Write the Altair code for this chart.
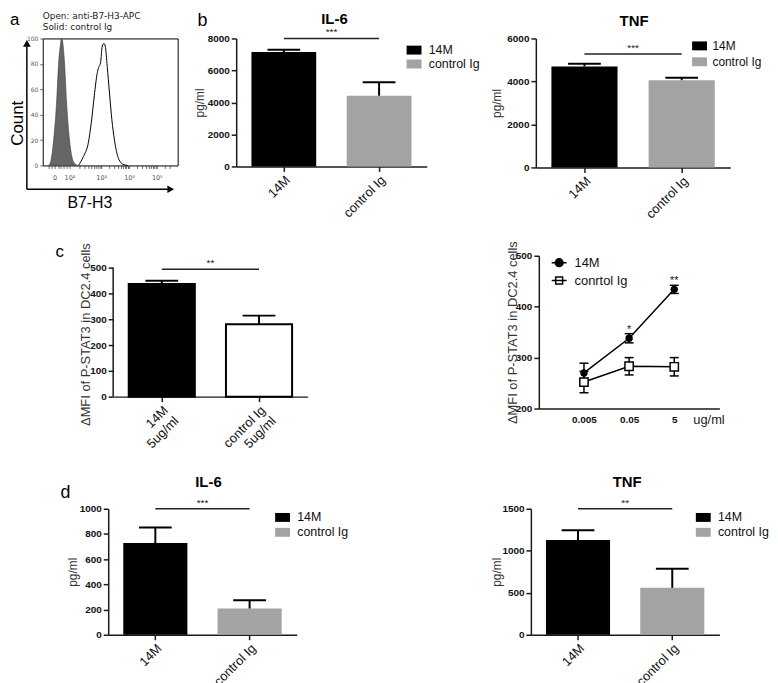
import altair as alt
import pandas as pd

FONT = "Liberation Sans"
AX = "#1a1a1a"

# ---------------- data ----------------
# panel a: flow-cytometry histogram (x in display decades: 3 = 10^3)
hist_ctrl_x = [1.107, 1.179, 1.286, 1.393, 1.464, 1.518, 1.571, 1.625, 1.679, 1.750, 1.857, 2.000, 2.143]
hist_ctrl_y = [0, 3, 20, 50, 80, 93, 100, 95, 80, 50, 20, 3, 0]
hist_open_x = [2.179, 2.357, 2.536, 2.643, 2.750, 2.857, 2.904, 2.975, 3.036, 3.096, 3.143, 3.214,
               3.296, 3.382, 3.475, 3.596, 3.775, 3.954]
hist_open_y = [0, 7, 18, 34, 55, 73, 77, 81, 94, 96, 94, 78, 57, 36, 20, 7, 1, 0]
hist_y_ticks = [0, 20, 40, 60, 80, 100]
hist_major_pos = [1.321, 1.857, 3.0, 4.0, 5.0]
hist_major_lab = ["0", "10²", "10³", "10⁴", "10⁵"]
hist_minor_pos = [1.10, 1.20, 1.45, 1.55, 1.65, 1.75, 2.201, 2.402, 2.545, 2.656, 2.746, 2.823, 2.889, 2.948,
                  3.301, 3.477, 3.602, 3.699, 3.778, 3.845, 3.903, 3.954,
                  4.301, 4.477, 4.602, 4.699, 4.778, 4.845, 4.903, 4.954, 5.301, 5.477]
hist_notes = ["Open: anti-B7-H3-APC", "Solid: control Ig"]

groups = ["14M", "control Ig"]
b_il6_mean = [7150, 4420]
b_il6_upper = [7300, 5260]
b_tnf_mean = [4700, 4060]
b_tnf_upper = [4820, 4175]
c_bar_mean = [437, 281]
c_bar_upper = [449, 314]
d_il6_mean = [728, 208]
d_il6_upper = [851, 274]
d_tnf_mean = [1127, 559]
d_tnf_upper = [1245, 787]

conc_labels = ["0.005", "0.05", "5"]
line_series = ["14M", "conrtol Ig"]
line_14m = [270, 338, 434]
line_14m_err = [19, 9, 8]
line_ctrl = [252, 283, 282]
line_ctrl_err = [21, 17, 18]
line_stars = ["", "*", "**"]

RECT = "M-1.5,-0.9H1.5V0.9H-1.5Z"
PATH_C = "M-1.5,0H1.5M-0.78,0A0.78,0.78,0,1,1,0.78,0A0.78,0.78,0,1,1,-0.78,0Z"
PATH_S = "M-1.5,0H-0.7M0.7,0H1.5M-0.7,-0.7H0.7V0.7H-0.7ZM-0.7,0H0.7"


def text_layer(t, x, y, size, weight="normal", align="center", baseline="alphabetic", font=FONT,
               color="#000"):
    return alt.Chart(pd.DataFrame({"t": [t]})).mark_text(
        fontSize=size, fontWeight=weight, align=align, baseline=baseline, color=color, font=font
    ).encode(text="t:N", x=alt.value(x), y=alt.value(y))


def spacer(w, h):
    return alt.Chart(pd.DataFrame({"v": [0]})).mark_point(opacity=0).properties(width=w, height=h)


def indep(ch):
    return ch.resolve_scale(color="independent", fill="independent", shape="independent",
                            stroke="independent").resolve_legend(
        color="independent", fill="independent", shape="independent", stroke="independent")


# ---------------- panel a ----------------
def panel_a():
    w, h = 136, 128
    df_c = pd.DataFrame({"x": hist_ctrl_x, "count": hist_ctrl_y})
    df_o = pd.DataFrame({"x": hist_open_x, "count": hist_open_y})
    expr = "".join(f"datum.value == {p} ? '{l}' : " for p, l in zip(hist_major_pos, hist_major_lab)) + "''"
    xs = alt.Scale(domain=[0.893, 5.75], nice=False, zero=False)
    ys = alt.Scale(domain=[0, 100], nice=False)
    xax = alt.Axis(values=hist_major_pos + hist_minor_pos, labelExpr=expr, domain=False, tickSize=3,
                   tickColor="#444", tickWidth=0.8, labelFontSize=6.5, labelColor="#555", labelPadding=6,
                   labelFont="DejaVu Sans", labelOverlap=False, labelFlush=False,
                   title="B7-H3", titleFontSize=16, titleFontWeight="normal", titleColor="#000",
                   titleX=47, titleY=29, titleBaseline="top", titleAlign="center", grid=False)
    yax = alt.Axis(values=hist_y_ticks, domain=False, tickSize=3, tickColor="#444", tickWidth=0.8,
                   labelFontSize=6, labelColor="#555", labelPadding=2, labelFont="DejaVu Sans",
                   labelFlush=False, title="Count", titleFontSize=17, titleFontWeight="normal",
                   titleColor="#000", titleX=-20, titleY=85, titleBaseline="alphabetic",
                   titleAlign="center", grid=False)
    X = alt.X("x:Q", scale=xs, axis=xax)
    Y = alt.Y("count:Q", scale=ys, axis=yax)
    area = alt.Chart(df_c).mark_area(fill="#666666", stroke="#3a3a3a", strokeWidth=0.6,
                                     interpolate="monotone").encode(x=X, y=Y)
    line = alt.Chart(df_o).mark_line(color="#000", strokeWidth=1, interpolate="monotone").encode(x=X, y=Y)
    one = pd.DataFrame({"v": [0]})
    arrow_v = alt.Chart(one).mark_rule(color="#000", strokeWidth=1.5).encode(
        x=alt.value(-16), y=alt.value(8), y2=alt.value(152))
    arrow_h = alt.Chart(one).mark_rule(color="#000", strokeWidth=1.5).encode(
        x=alt.value(-16), x2=alt.value(126), y=alt.value(152))
    head_v = alt.Chart(one).mark_point(shape="triangle-up", filled=True, color="#000", size=60,
                                       opacity=1).encode(x=alt.value(-16), y=alt.value(5))
    head_h = alt.Chart(one).mark_point(shape="triangle-right", filled=True, color="#000", size=60,
                                       opacity=1).encode(x=alt.value(129), y=alt.value(152))
    lt = text_layer("a", -33, -13.5, 17, align="left")
    n1 = text_layer(hist_notes[0], 0, -20, 9, align="left", font="DejaVu Sans", color="#222")
    n2 = text_layer(hist_notes[1], 0, -9, 9, align="left", font="DejaVu Sans", color="#222")
    return alt.layer(area, line, arrow_v, arrow_h, head_v, head_h, lt, n1, n2).properties(
        width=w, height=h, view=alt.ViewBackground(stroke="#000", strokeWidth=1))


# ---------------- bar panels ----------------
def bar_panel(means, uppers, colors, ymax, ystep, sig_level, stars, w, h, title=None, title_xy=(0, 0),
              ytitle="pg/ml", ytitle_size=12, ytitle_x=-30, ytitle_y=None, legend_xy=None, legend_rowpad=2,
              legend_font=12.5, legend_offset=8.5, letter=None, letter_xy=(0, 0), letter_size=18,
              letter_baseline="alphabetic", outline=False, line2=None, dom_top=None):
    df = pd.DataFrame({"group": groups, "mean": means, "upper": uppers})
    step = w / 2
    xscale = alt.Scale(domain=groups, paddingInner=0.32, paddingOuter=0.16)
    xkw = dict(title=None, labelAngle=-45, labelFontSize=13, labelColor="#111", tickSize=5, tickWidth=1.5,
               tickColor=AX, domainColor=AX, domainWidth=1.5, labelPadding=2, grid=False)
    if line2:
        xkw["labelExpr"] = f"[datum.label, '{line2}']"
        xkw["labelLineHeight"] = 15
    xax = alt.Axis(**xkw)

    def X(field, **kw):
        return alt.X(field, type="nominal", sort=groups, scale=xscale, axis=xax, **kw)

    top = dom_top if dom_top is not None else ymax
    yscale = alt.Scale(domain=[0, top], nice=False)
    ykw = dict(values=list(range(0, ymax + 1, ystep)), format="d", title=ytitle,
               titleFontSize=ytitle_size, titleFontWeight="normal", titleColor="#333",
               titleX=ytitle_x, titleBaseline="bottom", labelFontWeight="bold", labelFontSize=10,
               labelColor="#111", labelPadding=2, labelFlush=False, tickSize=5, tickWidth=1.5,
               tickColor=AX, domainColor=AX, domainWidth=1.5, grid=False)
    if ytitle_y is not None:
        ykw["titleY"] = ytitle_y
    if dom_top is not None:
        ykw["domain"] = False
    yax = alt.Axis(**ykw)

    def Y(field):
        return alt.Y(field, type="quantitative", scale=yscale, axis=yax)

    if legend_xy is not None:
        legend = alt.Legend(title=None, orient="none", legendX=legend_xy[0], legendY=legend_xy[1],
                            symbolType=RECT, symbolSize=100, symbolStrokeWidth=0, symbolOpacity=1,
                            labelFontSize=legend_font, labelColor="#111", labelFont=FONT,
                            labelOffset=legend_offset, padding=0, rowPadding=legend_rowpad)
    else:
        legend = None
    bar_kw = dict(opacity=1)
    if outline:
        bar_kw.update(stroke="#000", strokeWidth=2)
    bars = alt.Chart(df).mark_bar(**bar_kw).encode(
        x=X("group"), y=Y("mean"),
        color=alt.Color("group:N", scale=alt.Scale(domain=groups, range=colors), legend=legend))
    stem = alt.Chart(df).mark_rule(color="#000", strokeWidth=2).encode(
        x=X("group"), y=Y("mean"), y2="upper:Q")
    cap = alt.Chart(df).mark_tick(color="#000", thickness=2, size=33, opacity=1).encode(
        x=X("group"), y=Y("upper"))
    sig_df = pd.DataFrame({"a": [groups[0]], "b": [groups[1]], "level": [sig_level], "stars": [stars]})
    sig = alt.Chart(sig_df).mark_rule(color="#222", strokeWidth=1.5).encode(
        x=X("a", bandPosition=0.5), x2=alt.X2("b", bandPosition=0.5), y=Y("level"))
    star = alt.Chart(sig_df).mark_text(fontSize=10, baseline="bottom", dx=0.16 * step, dy=-1,
                                       color="#222").encode(
        x=X("a", bandPosition=1), y=Y("level"), text="stars:N")
    layers = [bars, stem, cap, sig, star]
    if dom_top is not None:
        dom = alt.Chart(pd.DataFrame({"lo": [0], "hi": [ymax]})).mark_rule(
            color=AX, strokeWidth=1.5).encode(x=alt.value(0), y=Y("lo"), y2="hi:Q")
        layers.append(dom)
    if letter:
        layers.append(text_layer(letter, letter_xy[0], letter_xy[1], letter_size, baseline=letter_baseline))
    if title:
        layers.append(text_layer(title, title_xy[0], title_xy[1], 15, weight="bold"))
    return alt.layer(*layers).properties(width=w, height=h)


# ---------------- panel c right (dose response) ----------------
def panel_e():
    w, h = 182, 154
    rows = []
    for s, vals, errs in [(line_series[0], line_14m, line_14m_err), (line_series[1], line_ctrl, line_ctrl_err)]:
        for i, (v, e) in enumerate(zip(vals, errs)):
            rows.append({"idx": i + 1, "series": s, "mean": v, "lo": v - e, "hi": v + e})
    df = pd.DataFrame(rows)
    st = pd.DataFrame({"idx": [1, 2, 3], "top": [v + e for v, e in zip(line_14m, line_14m_err)],
                       "stars": line_stars})
    lab_expr = "[" + ",".join(f"'{l}'" for l in conc_labels) + "][datum.value - 1]"
    xax = alt.Axis(values=[1, 2, 3], labelExpr=lab_expr, labelFontWeight="bold", labelFontSize=10,
                   labelColor="#111", labelPadding=6, labelFlush=False, ticks=False, domainColor=AX,
                   domainWidth=1.5, title="ug/ml", titleFontSize=13, titleFontWeight="normal",
                   titleColor="#222", titleX=171, titleY=11, titleAlign="center", titleBaseline="middle",
                   grid=False)
    yax = alt.Axis(values=[200, 300, 400, 500], title="ΔMFI of P-STAT3 in DC2.4 cells", titleFontSize=13,
                   titleFontWeight="normal", titleColor="#333", titleX=-19, titleBaseline="bottom",
                   labelFontWeight="bold", labelFontSize=10, labelColor="#111", labelPadding=2,
                   labelFlush=False, tickSize=5, tickWidth=1.5, tickColor=AX, domainColor=AX,
                   domainWidth=1.5, grid=False)
    X = alt.X("idx:Q", scale=alt.Scale(domain=[0, 4], nice=False, zero=False), axis=xax)
    ysc = alt.Scale(domain=[200, 500], nice=False, zero=False)

    def Y(field):
        return alt.Y(field, type="quantitative", scale=ysc, axis=yax)

    base = alt.Chart(df)
    lines = base.mark_line(color="#000", strokeWidth=1.5).encode(x=X, y=Y("mean"), detail="series:N")
    errs = base.mark_rule(color="#000", strokeWidth=1.5).encode(x=X, y=Y("lo"), y2="hi:Q")
    cap_lo = base.mark_tick(orient="horizontal", size=9, thickness=1.5, color="#000", opacity=1).encode(
        x=X, y=Y("lo"))
    cap_hi = base.mark_tick(orient="horizontal", size=9, thickness=1.5, color="#000", opacity=1).encode(
        x=X, y=Y("hi"))
    pts_m = base.transform_filter(alt.datum.series == line_series[0]).mark_point(
        shape="circle", filled=True, color="#000", size=55, opacity=1).encode(x=X, y=Y("mean"))
    pts_c = base.transform_filter(alt.datum.series == line_series[1]).mark_point(
        shape="square", filled=True, fill="#fff", stroke="#000", strokeWidth=1.5, size=70,
        opacity=1).encode(x=X, y=Y("mean"))
    stars = alt.Chart(st).mark_text(fontSize=11, baseline="alphabetic", dy=-1, color="#222").encode(
        x=X, y=Y("top"), text="stars:N")
    leg = alt.Legend(title=None, orient="none", legendX=14, legendY=0.5, symbolSize=100,
                     symbolStrokeWidth=1.5, symbolStrokeColor="#000", labelFontSize=13, labelOffset=9,
                     padding=0, rowPadding=4, labelFont=FONT, labelColor="#111")
    legend_layer = base.transform_filter("datum.idx > 99").mark_point(
        filled=False, strokeWidth=1.5, opacity=1).encode(
        shape=alt.Shape("series:N", scale=alt.Scale(domain=line_series, range=[PATH_C, PATH_S]), legend=leg),
        fill=alt.Fill("series:N", scale=alt.Scale(domain=line_series, range=["#000", "#fff"]), legend=leg),
        stroke=alt.Stroke("series:N", scale=alt.Scale(domain=line_series, range=["#000", "#000"]),
                          legend=leg))
    return alt.layer(lines, errs, cap_lo, cap_hi, pts_m, pts_c, stars, legend_layer).properties(
        width=w, height=h)


A = panel_a()
B = bar_panel(b_il6_mean, b_il6_upper, ["#000", "#a3a3a3"], 8000, 2000, 8000, "***", 192, 129,
              title="IL-6", title_xy=(99, -15), ytitle_x=-30, legend_xy=(173, 5.5), legend_rowpad=1,
              letter="b", letter_xy=(-34, -12.5))
C = bar_panel(b_tnf_mean, b_tnf_upper, ["#000", "#a3a3a3"], 6000, 2000, 5280, "***", 196, 130,
              title="TNF", title_xy=(99, -13), ytitle_x=-33, legend_xy=(159, 1.5), legend_rowpad=4,
              legend_font=12, legend_offset=7)
D = bar_panel(c_bar_mean, c_bar_upper, ["#000", "#fff"], 500, 100, 494, "**", 196, 142,
              ytitle="ΔMFI of P-STAT3 in DC2.4 cells", ytitle_size=13, ytitle_x=-21, ytitle_y=79,
              letter="c", letter_xy=(-54, -4), letter_size=17, letter_baseline="middle",
              outline=True, line2="5ug/ml", dom_top=546.15)
E = panel_e()
F = bar_panel(d_il6_mean, d_il6_upper, ["#000", "#a3a3a3"], 1000, 200, 1000, "***", 190, 127,
              title="IL-6", title_xy=(101, -22), ytitle_x=-29, legend_xy=(169.5, 2.5), legend_rowpad=2,
              letter="d", letter_xy=(-43, -11))
G = bar_panel(d_tnf_mean, d_tnf_upper, ["#000", "#a3a3a3"], 1500, 500, 1500, "**", 190, 127,
              title="TNF", title_xy=(97, -22), ytitle_x=-28, legend_xy=(167.5, 2.5), legend_rowpad=2)

row0 = indep(alt.hconcat(A, spacer(59, 1), B, spacer(110, 1), C, spacing=0, bounds="flush"))
row1 = indep(alt.hconcat(spacer(71, 1), D, spacer(233, 1), E, spacing=0, bounds="flush"))
row2 = indep(alt.hconcat(spacer(66, 1), F, spacer(236, 1), G, spacing=0, bounds="flush"))

chart = indep(alt.vconcat(row0, spacer(1, 219), row1, spacer(1, 255), row2, spacing=0, bounds="flush"))
chart = chart.properties(padding=0).configure(font=FONT).configure_axis(
    labelFont=FONT, titleFont=FONT).configure_legend(labelFont=FONT).configure_view(stroke="transparent")

chart.save("out.html", embed_options={"renderer": "svg", "actions": False})
